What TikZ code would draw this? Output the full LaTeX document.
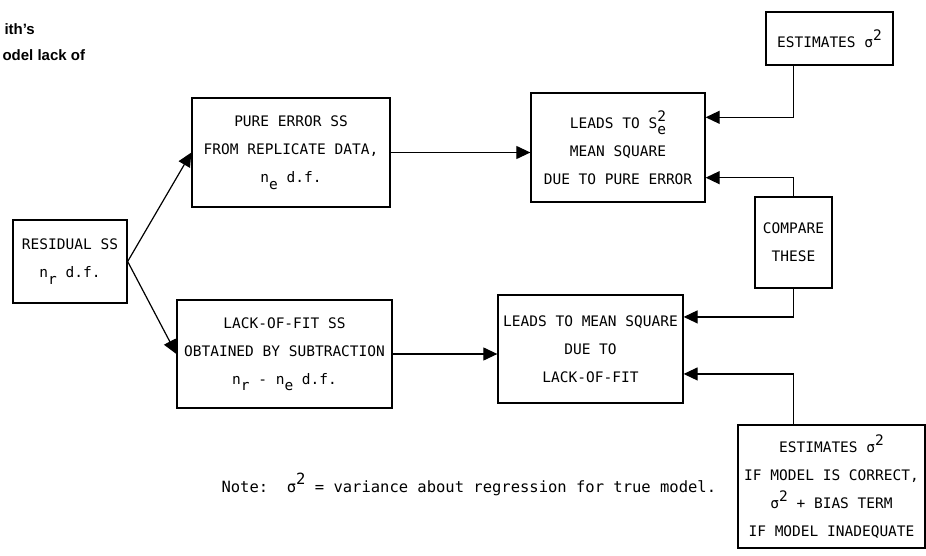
\documentclass[tikz,border=0pt]{standalone}
\usepackage{fontspec}
\setmainfont{DejaVu Sans Mono}
\newfontfamily\captionfont{Liberation Sans}
\usetikzlibrary{arrows.meta}
\newcommand{\dn}[1]{\raisebox{-0.45em}{#1}}
\newcommand{\up}[1]{\raisebox{0.5em}{#1}}

\begin{document}
\begin{tikzpicture}[x=1pt,y=-1pt]
    \tikzstyle{every node} = [font=\fontsize{14.5}{28}\selectfont]
    \tikzstyle{block} = [draw, rectangle, line width=1.3pt, inner sep=0pt, align=center]
    \tikzstyle{feed} = [-{Triangle[length=14pt,width=13pt]}, line width=1.2pt]
    \useasboundingbox (0,0) rectangle (926,556);
    % caption fragments
    \node[anchor=base west,font=\captionfont\bfseries\fontsize{15}{16}\selectfont](captionA) at (1,35){ith’s};
    \node[anchor=base west,font=\captionfont\bfseries\fontsize{15}{16}\selectfont](captionB) at (-1,61){odel lack of};
    % place nodes
    \node[block,minimum width=114pt,minimum height=83pt](residualSS) at (70,261.5){RESIDUAL SS\\n\dn{r} d.f.};
    \node[block,minimum width=198pt,minimum height=109pt](pureErrorSS) at (291,152.5){PURE ERROR SS\\FROM REPLICATE DATA,\\n\dn{e} d.f.};
    \node[block,minimum width=215pt,minimum height=108pt](lackOfFitSS) at (284.5,354){LACK-OF-FIT SS\\OBTAINED BY SUBTRACTION\\n\dn{r} - n\dn{e} d.f.};
    \node[block,minimum width=174pt,minimum height=109pt](pureErrorMS) at (618,147.5){LEADS TO S\rlap{\up{2}}\dn{e}\\MEAN SQUARE\\DUE TO PURE ERROR};
    \node[block,minimum width=185pt,minimum height=108pt](lackOfFitMS) at (590.5,349){LEADS TO MEAN SQUARE\\DUE TO\\LACK-OF-FIT};
    \node[block,minimum width=127pt,minimum height=53pt](estimatesSigma) at (829.5,38.5){ESTIMATES σ\up{2}};
    \node[block,minimum width=77pt,minimum height=91pt](compareThese) at (793.5,242.5){COMPARE\\THESE};
    \node[block,minimum width=187pt,minimum height=123pt](estimatesBias) at (831.5,486.5){ESTIMATES σ\up{2}\\IF MODEL IS CORRECT,\\σ\up{2} + BIAS TERM\\IF MODEL INADEQUATE};
    \node[anchor=base west,font=\fontsize{15.5}{18}\selectfont](note) at (218,492){Note:~~σ\up{2} = variance about regression for true model.};
    % Connections
    \draw[feed] (residualSS.east) -- (pureErrorSS.west);
    \draw[feed] (residualSS.east) -- (lackOfFitSS.west);
    \draw[feed] (pureErrorSS.east) -- (pureErrorSS.east -| pureErrorMS.west);
    \draw[feed] (lackOfFitSS.east) -- (lackOfFitSS.east -| lackOfFitMS.west);
    \draw[feed] (estimatesSigma.south -| compareThese.north) |- (pureErrorMS.19);
    \draw[feed] (compareThese.north) |- (pureErrorMS.-19);
    \draw[feed] (compareThese.south) |- (lackOfFitMS.19);
    \draw[feed] (estimatesBias.north -| compareThese.south) |- (lackOfFitMS.-15);
  \end{tikzpicture}
\end{document}
